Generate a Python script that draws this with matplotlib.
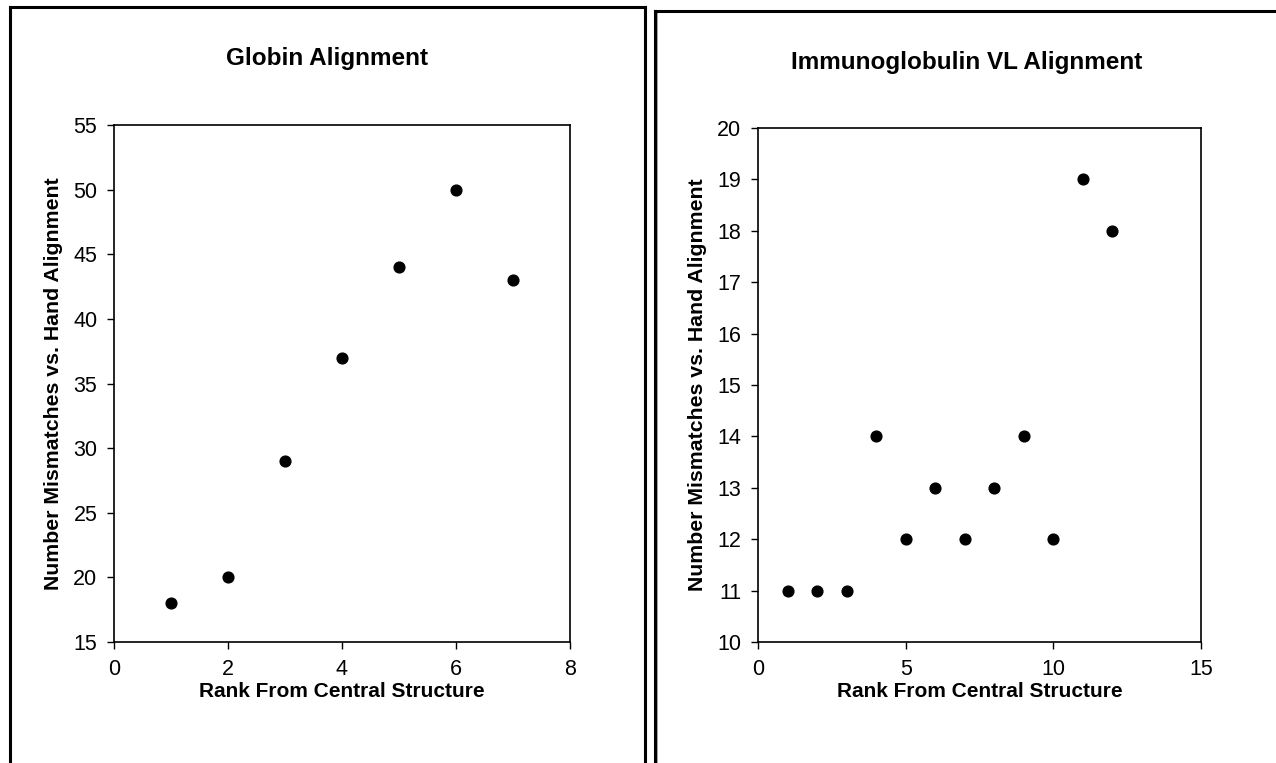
import matplotlib.pyplot as plt
from matplotlib.lines import Line2D

plt.rcParams['font.family'] = ['Liberation Sans', 'DejaVu Sans']

# globin data
globin_rank = [1, 2, 3, 4, 5, 6, 7]
globin_mismatch = [18, 20, 29, 37, 44, 50, 43]

# immunoglobulin VL data
igvl_rank = [1, 2, 3, 4, 5, 6, 7, 8, 9, 10, 11, 12]
igvl_mismatch = [11, 11, 11, 14, 12, 13, 12, 13, 14, 12, 19, 18]

W, H = 1276, 763
fig = plt.figure(figsize=(W / 100, H / 100), dpi=100)


# panel frames
def frame_line(xs, ys, color='black', lw=2.2):
    fx = [x / W for x in xs]
    fy = [1 - y / H for y in ys]
    fig.add_artist(Line2D(fx, fy, color=color, lw=lw, transform=fig.transFigure))


frame_line([10, 10], [763, 7])
frame_line([10, 645], [7, 7])
frame_line([645, 645], [7, 763])
frame_line([656, 656], [11, 763], color='#aaaaaa', lw=2.2)
frame_line([655, 655], [11, 763])
frame_line([655, 1276], [11, 11])


def make_panel(rect, xs, ys, xlim, xticks, ylim, yticks, title, title_x, title_y):
    ax = fig.add_axes(rect)
    ax.scatter(xs, ys, s=60, color='black', zorder=3, clip_on=False)
    ax.set_xlim(*xlim)
    ax.set_ylim(*ylim)
    ax.set_xticks(xticks)
    ax.set_yticks(yticks)
    ax.tick_params(direction='out', length=5, width=1, labelsize=15.5, pad=7)
    for s in ax.spines.values():
        s.set_linewidth(1.2)
    ax.set_xlabel('Rank From Central Structure', fontsize=15, fontweight='bold', labelpad=2)
    ax.set_ylabel('Number Mismatches vs. Hand Alignment', fontsize=15.3, fontweight='bold', labelpad=7)
    fig.text(title_x / W, 1 - title_y / H, title, ha='center', va='center', fontsize=17.5, fontweight='bold')
    return ax


make_panel([114 / W, 1 - 642 / H, (570 - 114) / W, (642 - 125) / H],
           globin_rank, globin_mismatch, (0, 8), [0, 2, 4, 6, 8],
           (15, 55), [15, 20, 25, 30, 35, 40, 45, 50, 55],
           'Globin Alignment', 327, 58)

make_panel([758 / W, 1 - 642 / H, (1201 - 758) / W, (642 - 128) / H],
           igvl_rank, igvl_mismatch, (0, 15), [0, 5, 10, 15],
           (10, 20), list(range(10, 21)),
           'Immunoglobulin VL Alignment', 967, 62)

fig.savefig('out.png', dpi=100)
